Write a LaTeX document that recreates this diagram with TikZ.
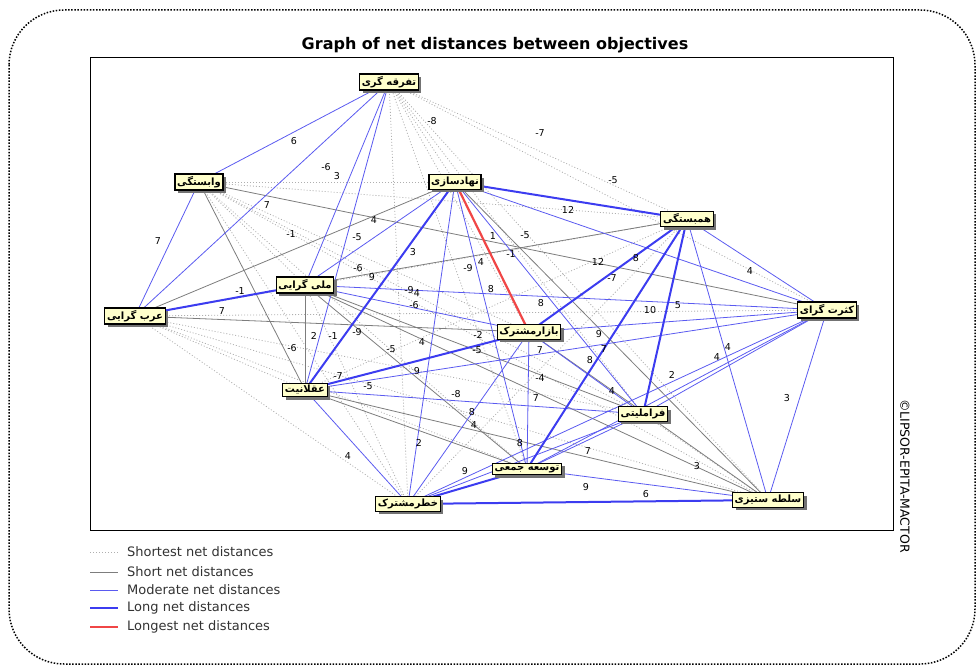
\documentclass[tikz,border=0pt]{standalone}
\usepackage{fontspec}
\setmainfont{DejaVu Sans}
\newfontfamily\fa[Script=Arabic]{DejaVu Sans}
\TeXXeTstate=1
\usetikzlibrary{shadows}
\pgfdeclarelayer{background}
\pgfsetlayers{background,main}
\definecolor{nodefill}{RGB}{255,255,204}
\definecolor{mblue}{RGB}{90,90,240}
\definecolor{lblue}{RGB}{60,60,240}
\definecolor{sgray}{RGB}{125,125,125}
\definecolor{dgray}{RGB}{175,175,175}
\definecolor{lred}{RGB}{240,70,70}
\definecolor{legtext}{RGB}{50,50,50}
\tikzset{
  obj/.style={draw=black, line width=1.2pt, fill=nodefill, inner sep=2.2pt,
    font=\fa\bfseries\fontsize{10}{12}\selectfont,
    drop shadow={shadow xshift=3pt, shadow yshift=-3pt, fill=black!55, opacity=1}},
  shortest/.style={draw=dgray, line width=0.8pt, dash pattern=on 1pt off 2pt},
  short/.style={draw=sgray, line width=0.8pt},
  moderate/.style={draw=mblue, line width=0.8pt},
  long/.style={draw=lblue, line width=2pt},
  longest/.style={draw=lred, line width=2.2pt},
  lab/.style={font=\fontsize{9.5}{10}\selectfont, inner sep=0.5pt, text=black},
  legtxt/.style={font=\fontsize{13}{14}\selectfont, text=legtext, anchor=west, inner sep=0pt}
}
\begin{document}
\begin{tikzpicture}[x=1pt,y=-1pt]
\useasboundingbox (0,0) rectangle (980,671);
% outer dotted rounded frame
\draw[line width=1.5pt, dash pattern=on 1.5pt off 1.6pt, rounded corners=55pt] (9,10) rectangle (975,664);
% plot frame
\draw[line width=0.8pt] (90,57) rectangle (893,530);
\node[font=\bfseries\fontsize{16}{18}\selectfont] (title) at (495,45) {Graph of net distances between objectives};
\node[rotate=-90, font=\fontsize{12.5}{13}\selectfont] (copy) at (905,476) {\textcopyright LIPSOR-EPITA-MACTOR};

% nodes
\node[obj] (A) at (389,82) {\beginR تفرقه گری\endR};
\node[obj] (B) at (199,182) {\beginR وابستگی\endR};
\node[obj] (C) at (455,182) {\beginR نهادسازی\endR};
\node[obj] (D) at (687,219) {\beginR همبستگی\endR};
\node[obj] (E) at (827,310) {\beginR کثرت گرای\endR};
\node[obj] (F) at (305,285) {\beginR ملی گرایی\endR};
\node[obj] (G) at (135,316) {\beginR عرب گرایی\endR};
\node[obj] (H) at (529,332) {\beginR بازارمشترک\endR};
\node[obj] (I) at (305,390) {\beginR عقلانیت\endR};
\node[obj] (J) at (643,414) {\beginR فراملیتی\endR};
\node[obj] (K) at (527,469) {\beginR توسعه جمعی\endR};
\node[obj] (L) at (408,504) {\beginR خطرمشترک\endR};
\node[obj] (M) at (768,500) {\beginR سلطه ستیزی\endR};

\begin{pgfonlayer}{background}
% shortest
\foreach \a/\b in {A/C, A/D, A/E, A/H, A/J, A/K, A/L, A/M, B/C, B/D, B/F, B/H, B/J, B/K, B/L, B/M,
  D/G, D/I, D/L, E/G, F/L, G/I, G/J, G/K, G/L, G/M, J/M}
  \draw[shortest] (\a.center) -- (\b.center);
% short
\foreach \a/\b in {B/E, B/I, C/G, C/M, F/D, F/I, F/J, F/K, F/M, G/H, H/M, I/K, I/M}
  \draw[short] (\a.center) -- (\b.center);
% moderate
\foreach \a/\b in {A/B, A/F, A/G, A/I, B/G, C/E, C/F, C/J, C/K, C/L, D/E, D/M, E/F, E/H, E/I,
  E/J, E/K, E/L, E/M, F/H, H/J, H/K, H/L, I/J, I/L, J/K, J/L, K/M}
  \draw[moderate] (\a.center) -- (\b.center);
% long
\foreach \a/\b in {C/D, C/I, F/G, D/H, D/J, D/K, I/H, L/K, L/M}
  \draw[long] (\a.center) -- (\b.center);
% longest
\draw[longest] (C.center) -- (H.center);
\end{pgfonlayer}

% edge labels
\foreach \x/\y/\t [count=\n] in {294/141/6, 326/167/-6, 337/176/3, 432/121/-8, 540/133/-7, 613/180/-5,
  267/205/7, 374/220/4, 291/234/-1, 357/237/-5, 568/210/12, 493/236/1, 525/235/-5, 511/254/-1,
  413/252/3, 468/268/-9, 481/262/4, 598/262/12, 636/258/8, 612/278/-7, 750/271/4, 158/241/7,
  240/291/-1, 358/268/-6, 372/277/9, 409/290/-9, 417/293/4, 414/305/-6, 491/289/8, 541/303/8,
  650/310/10, 678/305/5, 222/311/7, 314/336/2, 333/336/-1, 357/332/-9, 478/335/-2, 292/348/-6,
  391/349/-5, 422/342/4, 477/350/-5, 599/334/9, 604/349/7, 540/350/7, 590/360/8, 417/371/9,
  338/376/-7, 368/386/-5, 456/394/-8, 540/378/-4, 536/398/7, 612/391/4, 717/357/4, 728/347/4,
  672/375/2, 787/398/3, 472/412/8, 474/425/4, 419/443/2, 348/456/4, 520/443/8, 588/451/7,
  697/466/3, 465/471/9, 586/487/9, 646/494/6}
  \node[lab] (lab\n) at (\x,\y) {\t};

% legend
\coordinate (l1a) at (90,552); \coordinate (l1b) at (118,552);
\coordinate (l2a) at (90,572); \coordinate (l2b) at (118,572);
\coordinate (l3a) at (90,590); \coordinate (l3b) at (118,590);
\coordinate (l4a) at (90,608); \coordinate (l4b) at (118,608);
\coordinate (l5a) at (90,627); \coordinate (l5b) at (118,627);
\draw[shortest] (l1a) -- (l1b); \node[legtxt] (t1) at (127,552) {Shortest net distances};
\draw[short] (l2a) -- (l2b); \node[legtxt] (t2) at (127,572) {Short net distances};
\draw[moderate] (l3a) -- (l3b); \node[legtxt] (t3) at (127,590) {Moderate net distances};
\draw[long] (l4a) -- (l4b); \node[legtxt] (t4) at (127,608) {Long net distances};
\draw[longest] (l5a) -- (l5b); \node[legtxt] (t5) at (127,627) {Longest net distances};
\end{tikzpicture}
\end{document}
